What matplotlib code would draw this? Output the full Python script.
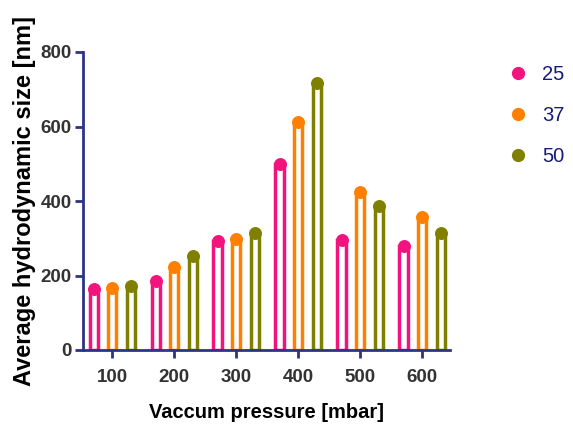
import matplotlib
matplotlib.use("Agg")
import matplotlib.pyplot as plt
from matplotlib.lines import Line2D
import numpy as np

categories = ["100", "200", "300", "400", "500", "600"]
series_names = ["25", "37", "50"]
vals_25 = [165, 185, 292, 500, 295, 279]
vals_37 = [167, 222, 298, 612, 424, 357]
vals_50 = [172, 252, 313, 717, 386, 314]
series_vals = [vals_25, vals_37, vals_50]
colors = ["#F2137E", "#FF8000", "#808000"]
yticks = [0, 200, 400, 600, 800]

plt.rcParams['font.family'] = ['Liberation Sans', 'DejaVu Sans']
fig = plt.figure(figsize=(5.73, 4.24), dpi=100)
ax = fig.add_axes([83/573, 1-350/424, (450-83)/573, (350-52)/424])

navy = "#2B3486"
x = np.arange(len(categories))
offsets = [-0.30, 0.0, 0.30]
width = 0.13
for vals, off, col in zip(series_vals, offsets, colors):
    ax.bar(x + off, vals, width, facecolor="white", edgecolor=col, linewidth=2.5, zorder=2)
    ax.plot(x + off, vals, 'o', color=col, markersize=8.3, zorder=3, clip_on=False)

ax.set_xlim(-0.47, 5.45)
ax.set_ylim(0, 800)
ax.set_xticks(x)
ax.set_xticklabels(categories)
ax.set_yticks(yticks)
for s in ["top", "right"]:
    ax.spines[s].set_visible(False)
for s in ["left", "bottom"]:
    ax.spines[s].set_color(navy)
    ax.spines[s].set_linewidth(2)
    ax.spines[s].set_zorder(4)
ax.tick_params(axis='both', colors=navy, width=2, length=6, labelcolor="#333333", labelsize=13.5)
ax.tick_params(axis='x', pad=8)
ax.tick_params(axis='y', pad=2)
for lab in ax.get_xticklabels() + ax.get_yticklabels():
    lab.set_fontweight('bold')

ax.set_xlabel("Vaccum pressure [mbar]", fontsize=14.5, fontweight='bold', labelpad=12)
ax.set_ylabel("Average hydrodynamic size [nm]", fontsize=17, fontweight='bold', labelpad=3)

handles = [Line2D([], [], marker='o', linestyle='none', color=c, markersize=8.5) for c in colors]
leg = fig.legend(handles, series_names, loc='upper left', bbox_to_anchor=(510/573, 1-65/424),
                 frameon=False, fontsize=14.5, labelspacing=1.1,
                 handlelength=0.8, handletextpad=0.8, borderpad=0, borderaxespad=0,
                 labelcolor="#161A78")

fig.savefig("out.png", dpi=100)
